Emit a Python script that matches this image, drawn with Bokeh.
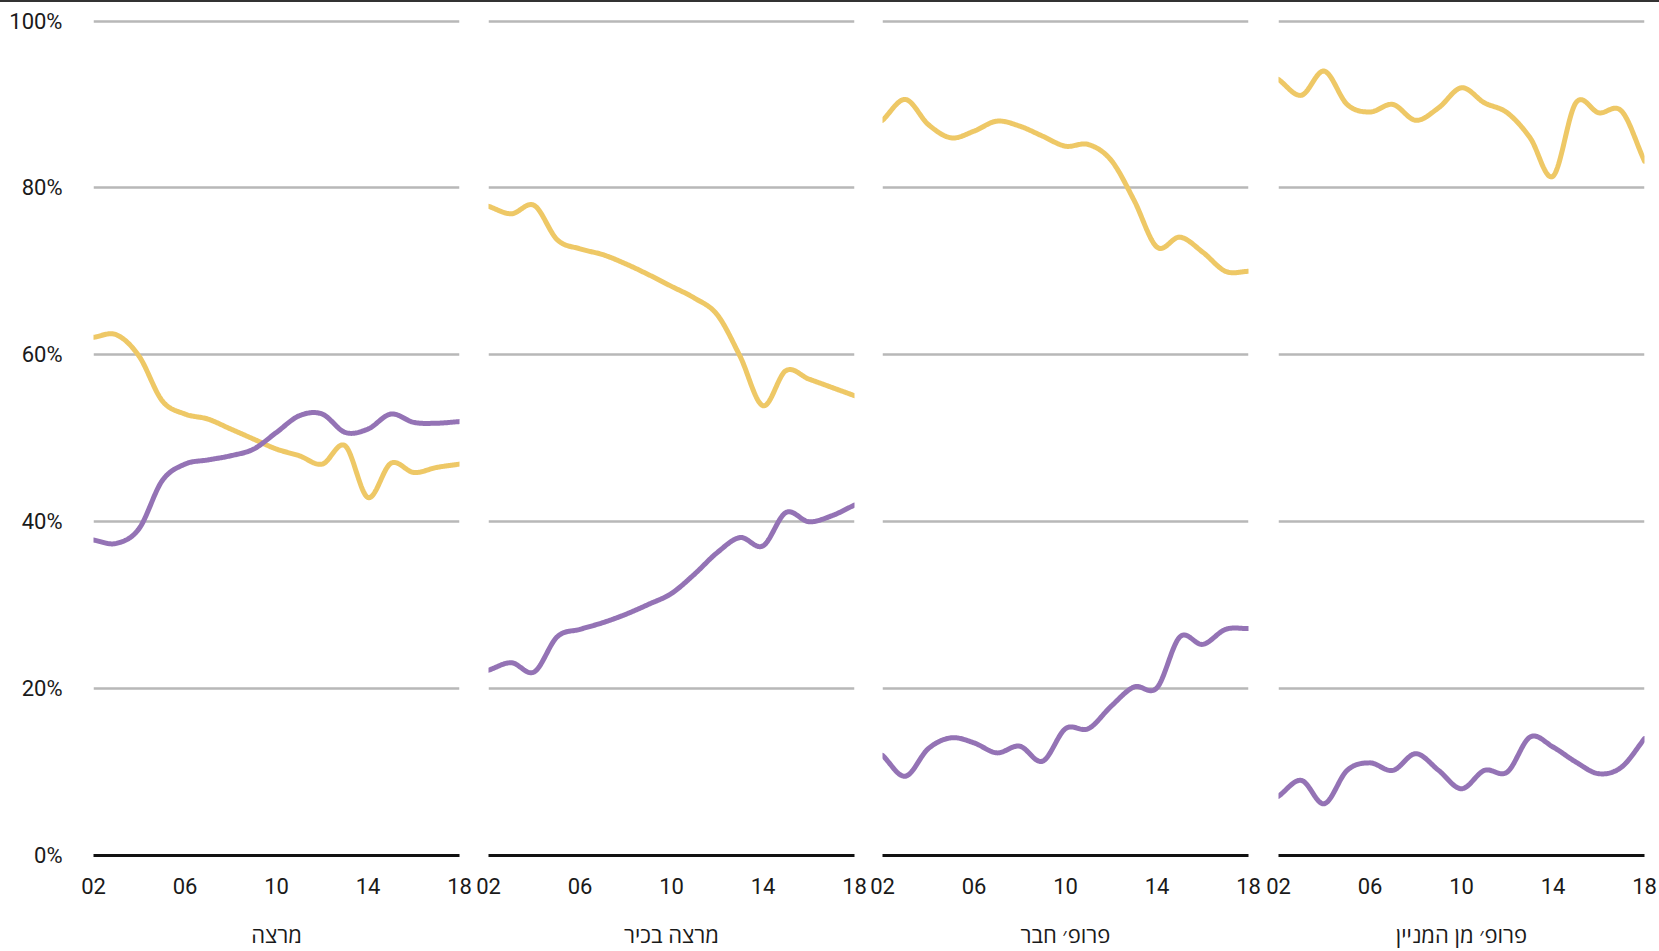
import numpy as np
from bokeh.plotting import figure
from bokeh.layouts import row
from bokeh.models import Range1d, FixedTicker, PrintfTickFormatter
from bokeh.embed import file_html
from bokeh.resources import INLINE

# ---------------- data ----------------
years = list(range(2002, 2019))
x_ticks = [2002, 2006, 2010, 2014, 2018]
x_tick_labels = ["02", "06", "10", "14", "18"]
y_ticks = [0, 20, 40, 60, 80, 100]
categories = ["מרצה", "מרצה בכיר", "פרופ׳ חבר", "פרופ׳ מן המניין"]

# yellow series (%), one list per panel
yellow_lecturer = [62.1, 62.4, 59.8, 54.5, 52.9, 52.3, 51.1, 49.9, 48.7, 47.9, 46.9, 49.1, 42.9, 47.0, 45.9, 46.5, 46.9]
yellow_senior = [77.8, 76.9, 77.9, 73.8, 72.7, 72.0, 70.9, 69.6, 68.2, 66.8, 64.8, 59.8, 53.9, 58.1, 57.1, 56.1, 55.1]
yellow_assoc = [88.1, 90.6, 87.6, 86.0, 86.8, 88.0, 87.4, 86.2, 85.0, 85.2, 83.3, 78.5, 72.9, 74.1, 72.3, 70.0, 70.0]
yellow_full = [93.0, 91.1, 94.0, 90.0, 89.1, 90.0, 88.1, 89.6, 92.0, 90.2, 89.0, 86.0, 81.4, 90.2, 89.0, 89.2, 83.2]

# purple series (%), one list per panel
purple_lecturer = [37.8, 37.4, 39.2, 44.9, 46.9, 47.4, 47.9, 48.7, 50.7, 52.7, 52.9, 50.7, 51.1, 52.9, 51.9, 51.8, 52.0]
purple_senior = [22.2, 23.1, 22.0, 26.2, 27.1, 27.9, 28.9, 30.1, 31.4, 33.7, 36.3, 38.1, 37.1, 41.1, 40.0, 40.7, 42.0]
purple_assoc = [12.0, 9.5, 12.8, 14.1, 13.5, 12.3, 13.1, 11.3, 15.2, 15.2, 17.9, 20.2, 20.1, 26.2, 25.3, 27.1, 27.2]
purple_full = [7.1, 9.0, 6.2, 10.2, 11.1, 10.2, 12.2, 10.2, 8.0, 10.2, 10.0, 14.2, 13.0, 11.2, 9.8, 10.6, 14.0]

yellow_series = [yellow_lecturer, yellow_senior, yellow_assoc, yellow_full]
purple_series = [purple_lecturer, purple_senior, purple_assoc, purple_full]

YELLOW = "#EEC866"
PURPLE = "#9473B5"
GRID = "#B8B8B8"
TEXT = "#1a1a1a"


def catmull_rom(xs, ys, n=24):
    """Smooth drawing path through the data points (uniform Catmull-Rom)."""
    xs = np.asarray(xs, float)
    ys = np.asarray(ys, float)
    px = np.concatenate([[2 * xs[0] - xs[1]], xs, [2 * xs[-1] - xs[-2]]])
    py = np.concatenate([[2 * ys[0] - ys[1]], ys, [2 * ys[-1] - ys[-2]]])
    out_x, out_y = [], []
    t = np.linspace(0, 1, n, endpoint=False)
    for i in range(1, len(px) - 2):
        for arr, out in ((px, out_x), (py, out_y)):
            p0, p1, p2, p3 = arr[i - 1], arr[i], arr[i + 1], arr[i + 2]
            v = 0.5 * ((2 * p1) + (-p0 + p2) * t + (2 * p0 - 5 * p1 + 4 * p2 - p3) * t ** 2
                       + (-p0 + 3 * p1 - 3 * p2 + p3) * t ** 3)
            out.extend(v.tolist())
    out_x.append(xs[-1])
    out_y.append(ys[-1])
    return out_x, out_y


FRAME_W = 366
FRAME_H = 837          # 0 .. 100.3 %
TOP = 16
BOTTOM = 96
H = TOP + FRAME_H + BOTTOM
borders = [(93, 14), (15, 14), (14, 15), (15, 15)]

panels = []
for i, cat in enumerate(categories):
    left, right = borders[i]
    p = figure(width=left + FRAME_W + right, height=H,
               x_range=Range1d(years[0], years[-1]), y_range=Range1d(0, 100.3),
               output_backend="svg", toolbar_location=None,
               min_border_left=left, min_border_right=right,
               min_border_top=TOP, min_border_bottom=BOTTOM)
    p.outline_line_color = None
    p.background_fill_color = "white"
    p.border_fill_color = "white"

    # grid
    p.xgrid.grid_line_color = None
    p.ygrid.ticker = FixedTicker(ticks=y_ticks[1:])
    p.ygrid.grid_line_color = GRID
    p.ygrid.grid_line_width = 2.5

    # x axis
    xa = p.xaxis[0]
    xa.ticker = FixedTicker(ticks=x_ticks)
    xa.major_label_overrides = {t: l for t, l in zip(x_ticks, x_tick_labels)}
    xa.major_tick_line_color = None
    xa.minor_tick_line_color = None
    xa.axis_line_color = "#111111"
    xa.axis_line_width = 3
    xa.major_label_text_font = "Roboto"
    xa.major_label_text_font_size = "22px"
    xa.major_label_text_color = TEXT
    xa.major_label_standoff = 16
    xa.axis_label = cat
    xa.axis_label_text_font = "Open Sans"
    xa.axis_label_text_font_size = "22px"
    xa.axis_label_text_font_style = "normal"
    xa.axis_label_text_color = TEXT
    xa.axis_label_standoff = 22

    # y axis
    ya = p.yaxis[0]
    if i == 0:
        ya.ticker = FixedTicker(ticks=y_ticks)
        ya.formatter = PrintfTickFormatter(format="%d%%")
        ya.axis_line_color = None
        ya.major_tick_line_color = None
        ya.minor_tick_line_color = None
        ya.major_label_text_font = "Roboto"
        ya.major_label_text_font_size = "22px"
        ya.major_label_text_color = TEXT
        ya.major_label_standoff = 25
    else:
        ya.visible = False

    yx, yy = catmull_rom(years, yellow_series[i])
    px_, py_ = catmull_rom(years, purple_series[i])
    p.line(yx, yy, line_color=YELLOW, line_width=5, line_cap="round", line_join="round")
    p.line(px_, py_, line_color=PURPLE, line_width=5, line_cap="round", line_join="round")
    panels.append(p)

layout = row(*panels, styles={"border-top": "2px solid #333333"})

open("out.html", "w").write(file_html(layout, INLINE))
